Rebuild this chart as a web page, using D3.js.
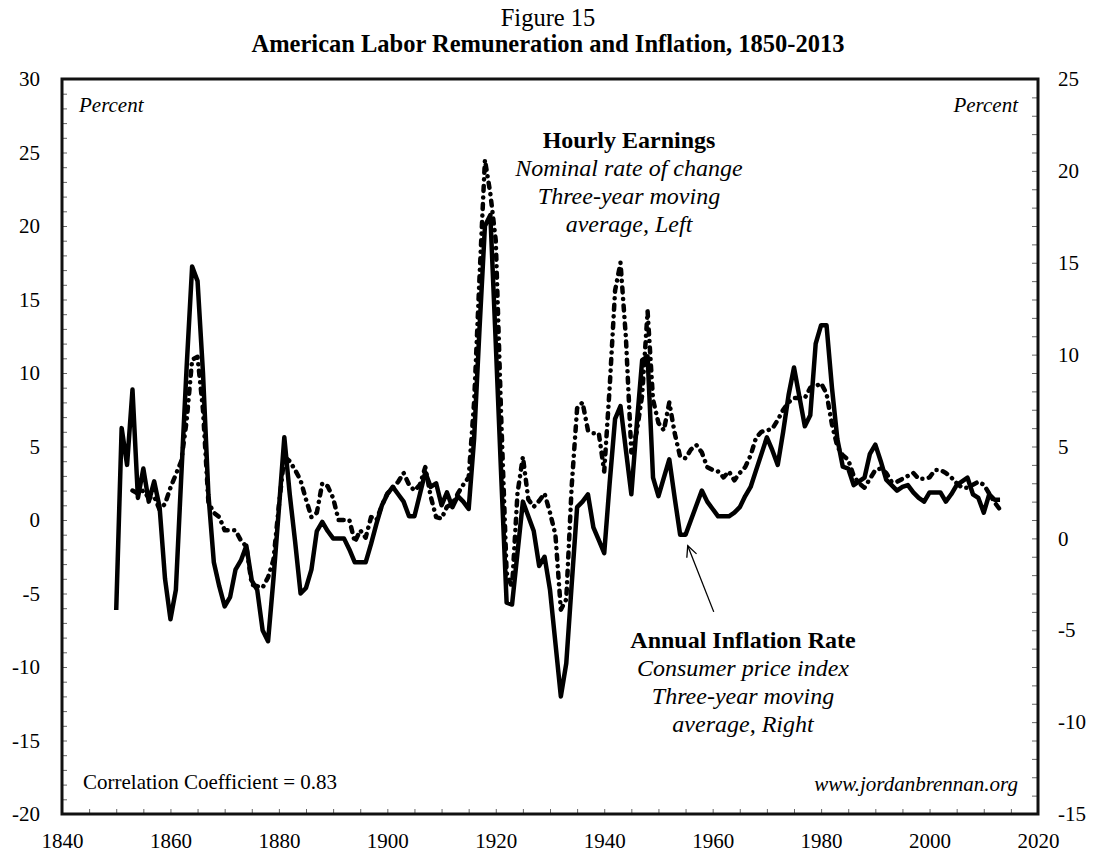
<!DOCTYPE html>
<html>
<head>
<meta charset="utf-8">
<script src="https://cdn.jsdelivr.net/npm/d3@7"></script>
<style>
  body { margin: 0; background: #fff; }
  svg text { font-family: "Liberation Serif", "Times New Roman", serif; fill: #000; }
</style>
</head>
<body>
<div id="chart"></div>
<script>
// Years covered by the inflation series
const inflationStart = 1850;
// Annual inflation rate, CPI, 3-yr moving average (right axis, %)
const inflation = [
  -3.9, 6.0, 4.0, 8.1, 2.2, 3.8, 2.0, 3.1, 1.7, -2.2,
  -4.4, -2.8, 3.4, 9.4, 14.8, 14.0, 9.0, 2.4, -1.3, -2.6,
  -3.7, -3.2, -1.7, -1.2, -0.4, -2.3, -2.8, -5.0, -5.6, -2.2,
  1.6, 5.5, 2.4, -0.2, -3.0, -2.7, -1.7, 0.4, 0.9, 0.4,
  0.0, 0.0, 0.0, -0.6, -1.3, -1.3, -1.3, -0.3, 0.8, 1.8,
  2.4, 2.8, 2.4, 2.0, 1.2, 1.2, 2.4, 3.6, 2.8, 3.0,
  1.8, 2.5, 1.7, 2.3, 2.0, 1.6, 5.4, 11.4, 17.0, 17.6,
  10.6, 3.4, -3.5, -3.6, -0.8, 2.0, 1.2, 0.4, -1.5, -1.0,
  -2.8, -5.7, -8.6, -6.8, -2.5, 1.7, 2.0, 2.4, 0.6, -0.1,
  -0.8, 3.0, 6.5, 7.2, 4.8, 2.4, 6.2, 9.7, 9.9, 3.3,
  2.3, 3.3, 4.3, 2.2, 0.2, 0.2, 1.0, 1.8, 2.6, 2.0,
  1.6, 1.2, 1.2, 1.2, 1.4, 1.7, 2.3, 2.8, 3.7, 4.6,
  5.5, 4.8, 4.0, 5.8, 7.8, 9.3, 7.7, 6.1, 6.7, 10.6,
  11.6, 11.6, 8.2, 5.4, 3.9, 3.8, 2.9, 3.1, 3.3, 4.6,
  5.1, 4.2, 3.2, 2.9, 2.6, 2.8, 2.9, 2.5, 2.2, 2.0,
  2.5, 2.5, 2.5, 2.0, 2.4, 2.9, 3.1, 3.3, 2.4, 2.2,
  1.4, 2.4, 2.1, 2.1
];

// Hourly earnings, nominal rate of change, 3-yr moving average (left axis, %)
const earningsStart = 1853;
const earnings = [
  2.0, 1.8, 2.0, 1.5, 1.6, 0.7, 1.1,
  2.2, 3.1, 4.0, 6.8, 10.9, 11.1, 7.5, 1.2, 0.5, 0.2,
  -0.7, -0.7, -0.7, -1.4, -1.8, -4.4, -4.5, -4.6, -3.9, -2.7,
  1.0, 4.3, 4.0, 3.4, 2.7, 1.4, 0.2, 0.5, 2.5, 2.3,
  1.5, 0.0, 0.0, 0.0, -1.5, -0.7, -1.2, 0.2, 0.0, 1.0,
  1.8, 2.2, 2.6, 3.2, 2.4, 2.0, 2.4, 3.6, 1.6, 0.2,
  0.1, 0.9, 1.1, 1.8, 2.4, 2.9, 8.0, 16.5, 24.5, 22.2,
  19.0, 7.0, -3.6, -4.6, 1.8, 4.3, 1.4, 0.9, 1.3, 1.8,
  0.5, -1.0, -6.1, -5.4, 2.3, 7.6, 8.0, 6.1, 5.9, 5.9,
  3.3, 9.0, 15.6, 17.5, 12.4, 4.6, 6.0, 8.5, 14.2, 8.2,
  6.6, 6.1, 8.0, 5.9, 4.3, 4.2, 4.8, 5.1, 4.6, 3.6,
  3.4, 3.3, 2.9, 3.3, 2.7, 3.2, 3.6, 4.4, 5.6, 6.0,
  6.1, 6.2, 6.8, 7.5, 8.0, 8.3, 8.3, 8.3, 9.0, 9.1,
  9.3, 8.6, 6.5, 5.0, 4.4, 4.1, 3.0, 2.5, 2.2, 2.8,
  3.4, 3.5, 3.2, 2.6, 2.6, 2.8, 3.0, 3.2, 2.8, 2.8,
  2.9, 3.4, 3.4, 3.2, 2.9, 2.5, 2.2, 2.2, 2.4, 2.6,
  2.4, 1.8, 1.2, 0.7
];

// Axis ticks
const xTicks = [1840, 1860, 1880, 1900, 1920, 1940, 1960, 1980, 2000, 2020];
const leftTicks = [-20, -15, -10, -5, 0, 5, 10, 15, 20, 25, 30];
const rightTicks = [-15, -10, -5, 0, 5, 10, 15, 20, 25];

// Set dimensions and margins
const width = 1094, height = 855;
const margin = { top: 79, right: 56, bottom: 41, left: 62 };

const svg = d3.select("#chart")
  .append("svg")
  .attr("width", width)
  .attr("height", height);

// Scales
const x = d3.scaleLinear()
  .domain([1840, 2020])
  .range([margin.left, width - margin.right]);

const yLeft = d3.scaleLinear()
  .domain([-20, 30])
  .range([height - margin.bottom, margin.top]);

const yRight = d3.scaleLinear()
  .domain([-15, 25])
  .range([height - margin.bottom, margin.top]);

// Titles
svg.append("text")
  .attr("x", 548).attr("y", 26)
  .attr("text-anchor", "middle")
  .style("font-size", "24.5px")
  .text("Figure 15");

svg.append("text")
  .attr("x", 548).attr("y", 52)
  .attr("text-anchor", "middle")
  .style("font-size", "24.5px")
  .style("font-weight", "bold")
  .text("American Labor Remuneration and Inflation, 1850-2013");

// Axes (ticks inside the frame)
const axisFont = "21px";

const leftAxis = svg.append("g")
  .attr("transform", `translate(${margin.left},0)`)
  .call(d3.axisLeft(yLeft)
    .tickValues(d3.range(-20, 31, 1))
    .tickSize(-5)
    .tickPadding(22)
    .tickFormat(d => leftTicks.includes(d) ? d : ""));

const rightAxis = svg.append("g")
  .attr("transform", `translate(${width - margin.right},0)`)
  .call(d3.axisRight(yRight)
    .tickValues(d3.range(-15, 26, 1))
    .tickSize(-6)
    .tickPadding(20)
    .tickFormat(d => rightTicks.includes(d) ? d : ""));

const bottomAxis = svg.append("g")
  .attr("transform", `translate(0,${height - margin.bottom})`)
  .call(d3.axisBottom(x)
    .tickValues(d3.range(1840, 2021, 5))
    .tickSize(-5)
    .tickPadding(19)
    .tickFormat(d => xTicks.includes(d) ? d : ""));

[leftAxis, rightAxis, bottomAxis].forEach(g => {
  g.select(".domain").remove();
  g.selectAll(".tick line").attr("stroke", "#666");
  g.selectAll("text").style("font-size", axisFont).attr("fill", "#000");
});

// Frame
svg.append("rect")
  .attr("x", margin.left)
  .attr("y", margin.top)
  .attr("width", width - margin.left - margin.right)
  .attr("height", height - margin.top - margin.bottom)
  .attr("fill", "none")
  .attr("stroke", "#111")
  .attr("stroke-width", 3);

// Series data
const inflData = inflation.map((v, i) => ({ year: inflationStart + i, value: v }));
const earnData = earnings.map((v, i) => ({ year: earningsStart + i, value: v }));

// Hourly earnings line (dash-dot, left axis)
svg.append("path")
  .datum(earnData)
  .attr("fill", "none")
  .attr("stroke", "#000")
  .attr("stroke-width", 4.5)
  .attr("stroke-linecap", "round")
  .attr("stroke-linejoin", "round")
  .attr("stroke-dasharray", "5,6.5,0.1,6.5")
  .attr("d", d3.line().x(d => x(d.year)).y(d => yLeft(d.value)));

// Inflation line (solid, right axis)
svg.append("path")
  .datum(inflData)
  .attr("fill", "none")
  .attr("stroke", "#000")
  .attr("stroke-width", 4.5)
  .attr("stroke-linejoin", "round")
  .attr("d", d3.line().x(d => x(d.year)).y(d => yRight(d.value)));

// "Percent" labels
svg.append("text")
  .attr("x", 79).attr("y", 112)
  .style("font-size", "21px").style("font-style", "italic")
  .text("Percent");

svg.append("text")
  .attr("x", 1018).attr("y", 112)
  .attr("text-anchor", "end")
  .style("font-size", "21px").style("font-style", "italic")
  .text("Percent");

// Series annotations
function block(cx, y0, lines) {
  lines.forEach((t, i) => {
    svg.append("text")
      .attr("x", cx).attr("y", y0 + i * 28)
      .attr("text-anchor", "middle")
      .style("font-size", "24px")
      .style("font-weight", i === 0 ? "bold" : "normal")
      .style("font-style", i === 0 ? "normal" : "italic")
      .text(t);
  });
}

block(629, 148, ["Hourly Earnings", "Nominal rate of change", "Three-year moving", "average, Left"]);
block(743, 648, ["Annual Inflation Rate", "Consumer price index", "Three-year moving", "average, Right"]);

// Arrow to the inflation line
const tip = [x(1955.4), yRight(-0.4)];
const tail = [x(1960.2), yRight(-4.0)];
const ang = Math.atan2(tail[1] - tip[1], tail[0] - tip[0]);
const head = 12, spread = 0.45;

svg.append("line")
  .attr("x1", tail[0]).attr("y1", tail[1])
  .attr("x2", tip[0]).attr("y2", tip[1])
  .attr("stroke", "#000").attr("stroke-width", 1.3);

svg.append("path")
  .attr("d", `M${tip[0] + head * Math.cos(ang - spread)},${tip[1] + head * Math.sin(ang - spread)}
              L${tip[0]},${tip[1]}
              L${tip[0] + head * Math.cos(ang + spread)},${tip[1] + head * Math.sin(ang + spread)}`)
  .attr("fill", "none")
  .attr("stroke", "#000")
  .attr("stroke-width", 1.3);

// Footnotes
svg.append("text")
  .attr("x", 83).attr("y", 789)
  .style("font-size", "21px")
  .text("Correlation Coefficient = 0.83");

svg.append("text")
  .attr("x", 1018).attr("y", 791)
  .attr("text-anchor", "end")
  .style("font-size", "21px").style("font-style", "italic")
  .text("www.jordanbrennan.org");
</script>
</body>
</html>
